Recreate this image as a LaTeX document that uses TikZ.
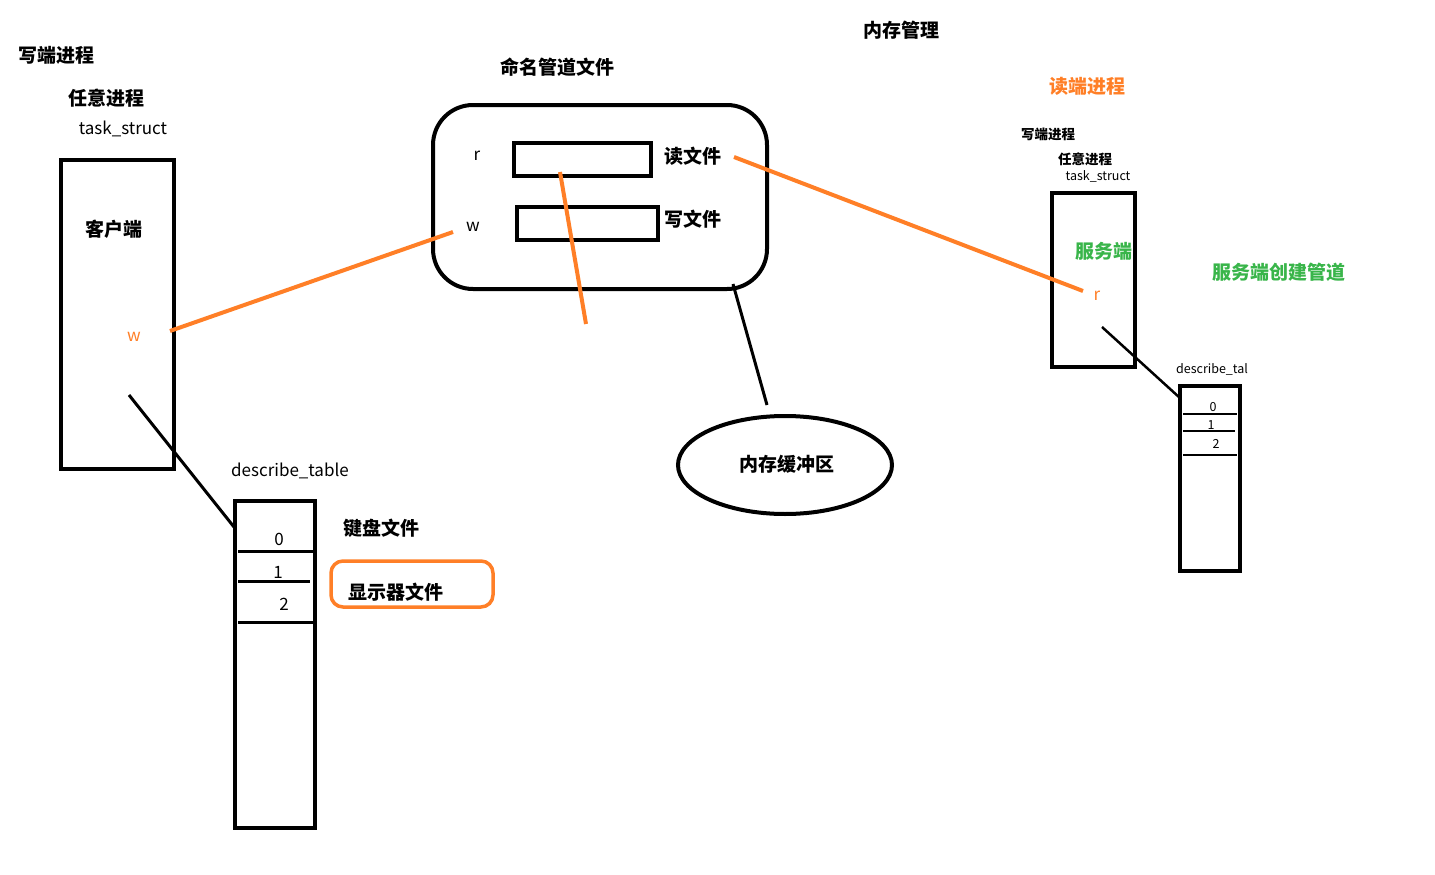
\documentclass[tikz,border=0pt]{standalone}
\usepackage{fontspec}
\setmainfont{Noto Sans CJK SC}
\usetikzlibrary{shapes.geometric}
\definecolor{pen}{RGB}{255,127,39}
\definecolor{leaf}{RGB}{57,181,74}

\begin{document}
\begin{tikzpicture}[x=1pt,y=-1pt,
	box/.style={draw,line width=4pt,inner sep=0pt},
	hd/.style={font=\fontsize{19}{21}\selectfont\bfseries},
	sm/.style={font=\fontsize{13.5}{15}\selectfont\bfseries},
	txt/.style={font=\fontsize{17}{19}\selectfont},
	tiny/.style={font=\fontsize{12.5}{14}\selectfont},
	link/.style={line width=3pt},
	pipe/.style={line width=4pt,color=pen}]
			\useasboundingbox (0,0) rectangle (1435,875);
			% writer side
			\node[hd] (wproc) at (56,55) {写端进程};
			\node[hd] (anyproc) at (106,98) {任意进程};
			\node[txt] (task) at (123,129) {task\_struct};
			\node[box,minimum width=113pt,minimum height=309pt] (client) at (117.5,314.5) {};
			\node[hd] (cname) at (114,229) {客户端};
			\node[txt,text=pen] (cw) at (134,337) {w};
			\node[txt] (dtname) at (290,471) {describe\_table};
			\node[box,minimum width=80pt,minimum height=327pt] (dtab) at (275,664.5) {};
			\draw[line width=3pt] (238,551) -- (313,551);
			\draw[line width=3pt] (238,581) -- (310,581);
			\draw[line width=3pt] (238,622) -- (313,622);
			\node[txt] (d0) at (279,539) {0};
			\node[txt] (d1) at (278,572) {1};
			\node[txt] (d2) at (284,604) {2};
			\node[hd] (kbd) at (381,528) {键盘文件};
			\node[draw=pen,line width=3.5pt,rounded corners=12pt,minimum width=162pt,minimum height=46pt] (scr) at (412,584) {};
			\node[hd] (scrname) at (396,592) {显示器文件};

			% named pipe
			\node[hd] (fifo) at (557,67) {命名管道文件};
			\node[box,rounded corners=40pt,minimum width=334pt,minimum height=184pt] (pipefile) at (600,197) {};
			\node[txt] (pr) at (477,156) {r};
			\node[txt] (pw) at (473,227) {w};
			\node[box,minimum width=137pt,minimum height=33pt] (rbox) at (582.5,159.5) {};
			\node[box,minimum width=141pt,minimum height=33pt] (wbox) at (587.5,223.5) {};
			\node[hd] (rfile) at (693,156) {读文件};
			\node[hd] (wfile) at (693,219) {写文件};
			\node[hd] (mm) at (901,30) {内存管理};
			\node[draw,ellipse,line width=4pt,minimum width=214pt,minimum height=98pt] (buf) at (785,465) {};
			\node[hd] (bufname) at (787,464) {内存缓冲区};

			% reader side
			\node[hd,text=pen] (rproc) at (1087,86) {读端进程};
			\node[sm] (wproc2) at (1048,134) {写端进程};
			\node[sm] (anyproc2) at (1085,159) {任意进程};
			\node[tiny] (task2) at (1098,176) {task\_struct};
			\node[box,line width=3.5pt,minimum width=83pt,minimum height=174pt] (server) at (1093.5,280) {};
			\node[hd,text=leaf] (sname) at (1104,251) {服务端};
			\node[txt,text=pen] (sr) at (1097,296) {r};
			\node[hd,text=leaf] (mk) at (1279,272) {服务端创建管道};
			\node[tiny] (dtname2) at (1212,369) {describe\_tal};
			\node[box,line width=3.5pt,minimum width=60pt,minimum height=185pt] (dtab2) at (1210,478.5) {};
			\draw[line width=2.5pt] (1183,414) -- (1237,414);
			\draw[line width=2.5pt] (1183,431) -- (1235,431);
			\draw[line width=2.5pt] (1183,455) -- (1237,455);
			\node[tiny] (e0) at (1213,407) {0};
			\node[tiny] (e1) at (1211,425) {1};
			\node[tiny] (e2) at (1216,444) {2};

			% connectors
			\coordinate (cwend) at (170,331);
			\coordinate (pwend) at (453,232);
			\coordinate (rstart) at (560,172);
			\coordinate (rfree) at (586,324);
			\coordinate (rfend) at (734,157);
			\coordinate (srend) at (1083,291);
			\coordinate (cfd) at (129,395);
			\coordinate (dtop) at (234,527);
			\coordinate (pbot) at (733,284);
			\coordinate (btop) at (767,405);
			\coordinate (sfd) at (1102,327);
			\coordinate (dtop2) at (1180,398);
			\draw[link] (cfd) -- (dtop);
			\draw[link] (pbot) -- (btop);
			\draw[line width=2.5pt] (sfd) -- (dtop2);
			\draw[pipe] (cwend) -- (pwend);
			\draw[pipe] (rstart) -- (rfree);
			\draw[pipe] (rfend) -- (srend);
		\end{tikzpicture}
\end{document}
